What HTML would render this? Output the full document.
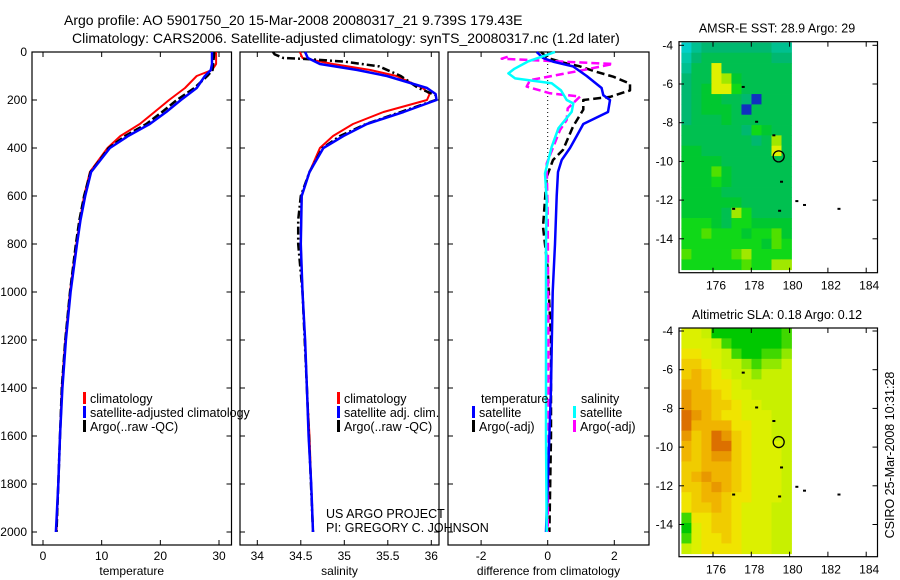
<!DOCTYPE html>
<html><head><meta charset="utf-8"><style>
body{margin:0;background:#fff;}
svg{display:block;font-family:"Liberation Sans",sans-serif;}
</style></head><body>
<svg id="s" width="900" height="580" viewBox="0 0 900 580" xmlns="http://www.w3.org/2000/svg">
<rect width="900" height="580" fill="#fff"/>
<text x="64" y="25" font-size="14">Argo profile: AO 5901750_20 15-Mar-2008 20080317_21 9.739S 179.43E</text>
<text x="72" y="43" font-size="14">Climatology: CARS2006. Satellite-adjusted climatology: synTS_20080317.nc (1.2d later)</text>
<g id="g"></g>
</svg>
<script>
// ---- data ----
const tDepth=[0,50,75,100,150,200,250,300,350,400,450,500,600,700,800,1000,1200,1400,1600,1800,2000];
const tClim=[29.5,29.5,28.8,26.2,24.2,21.5,19,16.5,13.2,11,9.5,8,7,6.3,5.7,4.6,3.8,3.2,2.9,2.6,2.3];
const tSat=[28.8,28.8,28.6,27.6,26.2,23.5,21,18.2,14.5,11.4,9.8,8.2,7.2,6.4,5.8,4.7,3.9,3.3,2.9,2.6,2.2];
const tArgo=[29.2,29.0,28.9,28,25.8,22.8,20.3,17.6,14,11.2,9.7,8.1,7,6.2,5.6,4.6,3.8,3.2,2.9,2.6,2.3];
const sDepth=[0,25,50,75,100,150,175,200,250,300,350,400,500,600,800,1000,1200,1400,1600,1800,2000];
const sClim=[34.49,34.52,34.87,35.3,35.6,35.9,35.98,35.95,35.45,35.1,34.87,34.72,34.6,34.51,34.5,34.52,34.55,34.57,34.6,34.62,34.64];
const sSat=[34.55,34.58,34.72,35.15,35.49,35.95,36.05,36.06,35.68,35.26,34.99,34.76,34.6,34.51,34.5,34.52,34.55,34.57,34.59,34.62,34.64];
const sArgoDepth=[0,10,25,30,40,60,100,150,180,200,250,300,350,400,500,600,700,800,1000,1400,2000];
const sArgo=[34.18,34.2,34.3,34.6,35.0,35.4,35.65,35.85,36.05,36.05,35.65,35.25,34.95,34.75,34.6,34.5,34.47,34.47,34.52,34.57,34.64];
const dTSatDepth=[0,25,40,60,100,150,180,200,250,300,350,400,450,500,600,800,1000,1400,1800,2000];
const dTSat=[-0.33,-0.14,0.16,0.76,1.17,1.62,1.67,1.87,1.81,1.07,0.87,0.67,0.42,0.31,0.27,0.22,0.15,0.1,0.0,-0.05];
const dTArgoDepth=[0,25,45,60,80,103,132,160,187,200,240,311,408,450,520,728,900,1200,1600,2000];
const dTArgo=[-0.2,0,0.5,0.97,1.4,1.97,2.47,2.47,1.87,1.07,1.07,0.76,0.46,0.16,-0.03,-0.14,0.0,0.1,0.1,0.05];
const dSSatDepth=[0,15,40,70,89,110,130,160,200,214,249,318,395,506,617,800,1200,1600,2000];
const dSSat=[0.22,-0.08,-0.6,-1.0,-1.18,-0.98,0.12,0.4,0.57,0.77,0.72,0.32,0.12,-0.08,-0.03,-0.05,-0.05,-0.05,-0.03];
const dSArgoDepth=[20,28,50,78,117,144,172,186,235,283,325,464,700,1200,1600,2000];
const dSArgo=[-1.2,-1.38,1.96,0.97,-0.53,-0.63,0.07,0.97,0.6,0.57,0.37,-0.03,0.0,0.02,0.02,0.0];
const depthTicks=[0,200,400,600,800,1000,1200,1400,1600,1800,2000];
const tTicks=[0,10,20,30];
const sTicks=[34,34.5,35,35.5,36];
const dTicks=[-2,0,2];
const latTicks=[-4,-6,-8,-10,-12,-14];
const lonTicks=[176,178,180,182,184];
const sstRows=["02333333322","13444444433","24494444444","34498544444","34599644444","3455443b444","345554b4444","34445444444","44444436544","44444443484","55444444494","55554444444","55575444444","55565444444","55554444444","55555544444","55554864444","66654665555","66766656675","66666666576","76666786666","66666676688"];
const slaRows=["44300000001","44431000001","55443100112","66543321223","67654332333","77655433333","87765443333","87766544333","98765544433","97777554433","86798654433","76799654443","76788654443","66777654443","67877654443","66787654443","56776554443","56676544433","15566544433","04566544433","14556544433","34555544433"];
const floatLon=179.43, floatLat=-9.739;
// ---- drawing ----
const NS="http://www.w3.org/2000/svg";const G=document.getElementById('g');
function mk(tag,at,parent){const e=document.createElementNS(NS,tag);for(const k in at)e.setAttribute(k,at[k]);(parent||G).appendChild(e);return e;}
const Y=d=>52+d*0.24;
const panels=[{x0:32,x1:231.5,sx:v=>43+v*5.867,ticks:tTicks,title:'temperature',tn:'temperature-panel'},
{x0:240,x1:439,sx:v=>257.3+(v-34)*87,ticks:sTicks,title:'salinity',tn:'salinity-panel'},
{x0:448,x1:649,sx:v=>547.7+v*33.3,ticks:dTicks,title:'difference from climatology',tn:'difference-panel'}];
panels.forEach((p,i)=>{
 const r=mk('rect',{x:p.x0,y:52,width:p.x1-p.x0,height:493,fill:'none',stroke:'#000','stroke-width':1.2});
 
 
 depthTicks.forEach(d=>{
  mk('line',{x1:p.x0,x2:p.x0+5,y1:Y(d),y2:Y(d),stroke:'#000'});
  mk('line',{x1:p.x1-5,x2:p.x1,y1:Y(d),y2:Y(d),stroke:'#000'});
  if(i==0){const t=mk('text',{x:27,y:Y(d)+4,'font-size':12,'text-anchor':'end'});t.textContent=d;
   
   }
 });
 p.ticks.forEach(v=>{const x=p.sx(v);
  mk('line',{x1:x,x2:x,y1:52,y2:57,stroke:'#000'});mk('line',{x1:x,x2:x,y1:540,y2:545,stroke:'#000'});
  const t=mk('text',{x:x,y:560,'font-size':12,'text-anchor':'middle'});t.textContent=v;
  
  });
 const tt=mk('text',{x:(p.x0+p.x1)/2,y:575,'font-size':12,'text-anchor':'middle'});tt.textContent=p.title;
 
 
});
function line(depths,vals,sx,col,w,dash,name){
 const pts=depths.map((d,i)=>sx(vals[i]).toFixed(1)+','+Y(d).toFixed(1)).join(' ');
 const e=mk('polyline',{points:pts,fill:'none',stroke:col,'stroke-width':w,'stroke-dasharray':dash||'none','stroke-linejoin':'round'});
 
 
}
const P=panels;
line(tDepth,tClim,P[0].sx,'#f00',2,null,'temperature-climatology-line');
line(tDepth,tArgo,P[0].sx,'#000',2.5,'8,3','temperature-argo-line');
line(tDepth,tSat,P[0].sx,'#00f',2.5,null,'temperature-satellite-line');
line(sDepth,sClim,P[1].sx,'#f00',2,null,'salinity-climatology-line');
line(sArgoDepth,sArgo,P[1].sx,'#000',2.5,'8,3,2,3','salinity-argo-line');
line(sDepth,sSat,P[1].sx,'#00f',2.5,null,'salinity-satellite-line');
mk('line',{x1:P[2].sx(0),x2:P[2].sx(0),y1:52,y2:Y(450),stroke:'#000','stroke-dasharray':'1,3'});
line(dTArgoDepth,dTArgo,P[2].sx,'#000',2.5,'8,4','temp-diff-argo-line');
line(dSArgoDepth,dSArgo,P[2].sx,'#f0f',2.5,'8,4','sal-diff-argo-line');
line(dTSatDepth,dTSat,P[2].sx,'#00f',2.5,null,'temp-diff-satellite-line');
line(dSSatDepth,dSSat,P[2].sx,'#0ff',2.5,null,'sal-diff-satellite-line');
function leg(x,y,col,txt,name){mk('rect',{x:x,y:y-11,width:3,height:12,fill:col});
 const t=mk('text',{x:x+7,y:y,'font-size':12.5});t.textContent=txt;
 
 }
leg(83,403,'#f00','climatology','legend-climatology');
leg(83,417,'#00f','satellite-adjusted climatology','legend-satellite');
leg(83,431,'#000','Argo(..raw -QC)','legend-argo');
leg(337,403,'#f00','climatology','legend-sal-climatology');
leg(337,417,'#00f','satellite adj. clim.','legend-sal-satellite');
leg(337,431,'#000','Argo(..raw -QC)','legend-sal-argo');
{const t=mk('text',{x:481,y:403,'font-size':12.5});t.textContent='temperature';
 
 
 const u=mk('text',{x:581,y:403,'font-size':12.5});u.textContent='salinity';
 
 }
leg(472,417,'#00f','satellite','legend-diff-temp-satellite');
leg(472,431,'#000','Argo(-adj)','legend-diff-temp-argo');
leg(573,417,'#0ff','satellite','legend-diff-sal-satellite');
leg(573,431,'#f0f','Argo(-adj)','legend-diff-sal-argo');
{const t=mk('text',{x:326,y:518,'font-size':12.5});t.textContent='US ARGO PROJECT';
 
 
 const u=mk('text',{x:326,y:532,'font-size':12.5});u.textContent='PI: GREGORY C. JOHNSON';
 
 }
// maps
const sstPal={'0':'#00d0c8','1':'#00c8a8','2':'#00c090','3':'#00b870','4':'#00c050','5':'#00c830','6':'#10d818','7':'#50e000','8':'#a0e800','9':'#e0f000','b':'#1030c0'};
const slaPal={'0':'#00c800','1':'#40d800','2':'#90e800','3':'#c8f000','4':'#dcf000','5':'#f0e400','6':'#f0cc00','7':'#f0b400','8':'#e89800','9':'#dc7000'};
function map(top,bot,latY0,rows,pal,title,name){
 const LX=lon=>713+(lon-176)*19.15, LY=lat=>latY0+(-4-lat)*19.35;
 const x0=LX(174.35),x1=LX(180.1),y0=LY(-3.85);const y1=bot-3;
 const nr=rows.length,nc=rows[0].length,cw=(x1-x0)/nc,ch=(y1-y0)/nr;
 rows.forEach((r,i)=>{[...r].forEach((c,j)=>{const e=mk('rect',{x:(x0+j*cw).toFixed(2),y:(y0+i*ch).toFixed(2),width:(cw+0.4).toFixed(2),height:(ch+0.4).toFixed(2),fill:pal[c]});
  
  });});
 const fr=mk('rect',{x:679,y:top,width:198.5,height:bot-top,fill:'none',stroke:'#000','stroke-width':1.2});
 
 
 latTicks.forEach(l=>{const y=LY(l);mk('line',{x1:679,x2:684,y1:y,y2:y,stroke:'#000'});mk('line',{x1:872.5,x2:877.5,y1:y,y2:y,stroke:'#000'});
  const t=mk('text',{x:673,y:y+4,'font-size':12,'text-anchor':'end'});t.textContent=l;
  
  });
 lonTicks.forEach(l=>{const x=LX(l);mk('line',{x1:x,x2:x,y1:top,y2:top+5,stroke:'#000'});mk('line',{x1:x,x2:x,y1:bot-5,y2:bot,stroke:'#000'});
  const t=mk('text',{x:x+3,y:bot+17,'font-size':12,'text-anchor':'middle'});t.textContent=l;
  
  });
 const c=mk('circle',{cx:LX(floatLon),cy:LY(floatLat),r:5.5,fill:'none',stroke:'#000','stroke-width':1.3});
 
 
 [[177.5,-6.1],[178.2,-7.9],[179.1,-8.6],[179.5,-11.0],[179.4,-12.5],[180.3,-12.0],[180.7,-12.2],[182.5,-12.4],[177.0,-12.4]].forEach(p=>{
  mk('rect',{x:LX(p[0]),y:LY(p[1]),width:3,height:2,fill:'#000'});});
 const t=mk('text',{x:777,y:top-9,'font-size':12.5,'text-anchor':'middle'});t.textContent=title;
 
 
}
map(41.7,272.7,45.3,sstRows,sstPal,'AMSR-E SST: 28.9 Argo: 29','sst-map');
map(328,556.7,331,slaRows,slaPal,'Altimetric SLA: 0.18 Argo: 0.12','sla-map');
{const t=mk('text',{x:0,y:0,'font-size':12.5,'text-anchor':'middle',transform:'translate(894,455) rotate(-90)'});t.textContent='CSIRO 25-Mar-2008 10:31:28';
 
 }
</script>
</body></html>
